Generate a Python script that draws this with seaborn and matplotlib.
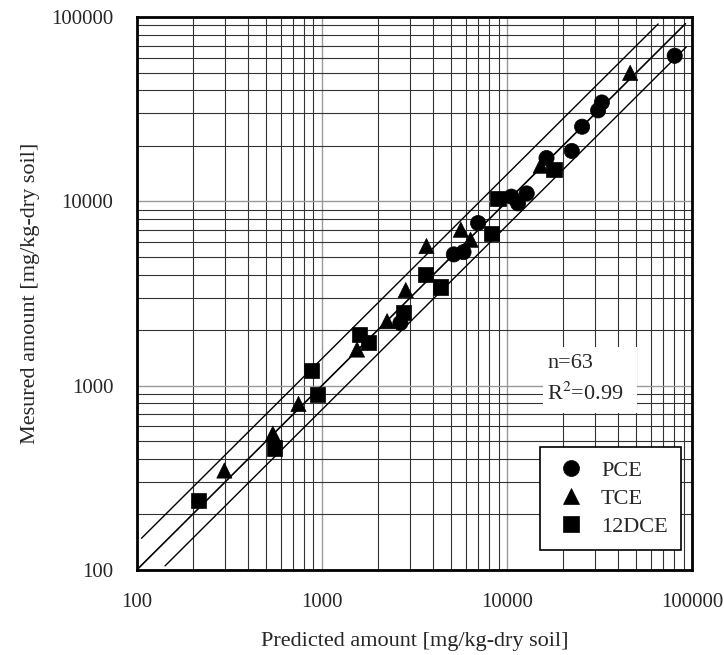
import numpy as np
import pandas as pd
import matplotlib
matplotlib.use("Agg")
import matplotlib.pyplot as plt
import seaborn as sns

pce_pred = [2655, 5158, 5820, 6975, 10560, 11460, 12770, 16340, 22370, 25440, 31050, 32520, 80500]
pce_mes = [2187, 5150, 5300, 7620, 10600, 9750, 11030, 17170, 18760, 25400, 31150, 34380, 61620]

tce_pred = [297, 543, 747, 1547, 2249, 2836, 3670, 5630, 6350, 15200, 46250]
tce_mes = [346, 548, 795, 1569, 2235, 3296, 5715, 7015, 6190, 15610, 49800]

dce_pred = [215, 552, 947, 875, 1599, 1786, 2746, 3623, 4385, 8280, 8930, 17950]
dce_mes = [238, 458, 897, 1211, 1888, 1713, 2484, 4012, 3430, 6700, 10350, 14870]

composes = ["PCE", "TCE", "12DCE"]

df = pd.DataFrame({
    "pred": pce_pred + tce_pred + dce_pred,
    "mes": pce_mes + tce_mes + dce_mes,
    "compose": ["PCE"] * len(pce_pred) + ["TCE"] * len(tce_pred) + ["12DCE"] * len(dce_pred),
})

sns.set_style("white")
plt.rcParams["font.family"] = ["Liberation Serif", "DejaVu Serif"]
plt.rcParams["mathtext.fontset"] = "stix"

fig = plt.figure(figsize=(7.24, 6.55), dpi=100)
ax = fig.add_axes([0.189, 0.130, 0.767, 0.844])
ax.set_xscale("log")
ax.set_yscale("log")
ax.set_xlim(100, 100000)
ax.set_ylim(100, 100000)

# grille
ax.grid(True, which="minor", color="#333333", linewidth=0.8)
ax.grid(True, which="major", color="#999999", linewidth=1.0)
ax.set_axisbelow(True)

# droite 1:1 et bornes
x1 = np.array([100, 92000])
ax.plot(x1, x1, color="black", lw=1.2, zorder=2)
xh = np.array([106, 65500])
ax.plot(xh, xh * 1.4, color="black", lw=1.0, zorder=2)
xb = np.array([142, 93000])
ax.plot(xb, xb * 0.74, color="black", lw=1.0, zorder=2)

sns.scatterplot(data=df, x="pred", y="mes", style="compose", style_order=composes,
                markers={"PCE": "o", "TCE": "^", "12DCE": "s"}, color="black",
                s=120, edgecolor="black", linewidth=0.5, ax=ax, zorder=3)

handles, labels = ax.get_legend_handles_labels()
leg = ax.legend(handles, labels, loc="lower right", bbox_to_anchor=(0.98, 0.036),
                fancybox=False, edgecolor="black", framealpha=1, fontsize=16,
                markerscale=1.05, handletextpad=0.55, handlelength=1.6,
                labelspacing=0.33, borderpad=0.6, borderaxespad=0)
leg.get_frame().set_linewidth(1.2)

# zone blanche derriere le texte
ax.add_patch(plt.Rectangle((0.731, 0.284), 0.17, 0.119, transform=ax.transAxes,
                           facecolor="white", edgecolor="none", zorder=3))
ax.text(0.739, 0.374, "n=63", transform=ax.transAxes, fontsize=16,
        ha="left", va="center", zorder=4)
ax.text(0.739, 0.318, r"R$^2$=0.99", transform=ax.transAxes, fontsize=16,
        ha="left", va="center", zorder=4)

ticks = [100, 1000, 10000, 100000]
ax.set_xticks(ticks)
ax.set_yticks(ticks)
ax.set_xticklabels([str(t) for t in ticks])
ax.set_yticklabels([str(t) for t in ticks])
ax.tick_params(which="major", direction="in", length=7, width=1.5, labelsize=15)
ax.tick_params(axis="x", pad=17)
ax.tick_params(axis="y", pad=17)
ax.tick_params(which="minor", length=0)

for sp in ax.spines.values():
    sp.set_linewidth(2)
    sp.set_color("black")

ax.set_xlabel("Predicted amount [mg/kg-dry soil]", fontsize=16, labelpad=14)
ax.set_ylabel("Mesured amount [mg/kg-dry soil]", fontsize=16, labelpad=8)

fig.savefig("out.png", dpi=100)
